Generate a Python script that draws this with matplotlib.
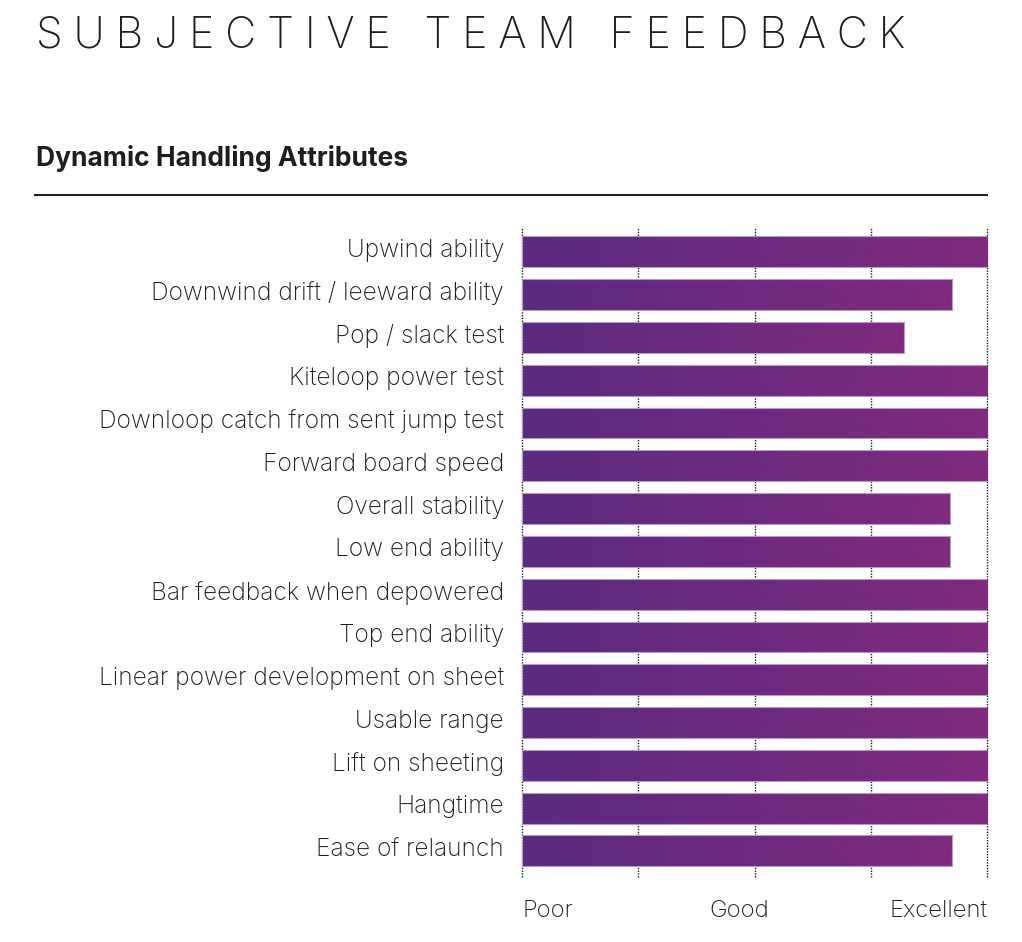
import matplotlib
matplotlib.use("Agg")
import matplotlib.pyplot as plt
import numpy as np
from matplotlib.colors import LinearSegmentedColormap
import matplotlib.transforms as mtransforms

title = "SUBJECTIVE TEAM FEEDBACK"
subtitle = "Dynamic Handling Attributes"
categories = [
    "Upwind ability",
    "Downwind drift / leeward ability",
    "Pop / slack test",
    "Kiteloop power test",
    "Downloop catch from sent jump test",
    "Forward board speed",
    "Overall stability",
    "Low end ability",
    "Bar feedback when depowered",
    "Top end ability",
    "Linear power development on sheet",
    "Usable range",
    "Lift on sheeting",
    "Hangtime",
    "Ease of relaunch",
]
scores = [4.0, 3.70, 3.29, 4.0, 4.0, 4.0, 3.68, 3.68, 4.0, 4.0, 4.0, 4.0, 4.0, 4.0, 3.70]
scale_ticks = [0, 2, 4]
scale_labels = ["Poor", "Good", "Excellent"]

FONT = ["Inter", "DejaVu Sans"]
TEXT = "#1e1e1e"
cmap = LinearSegmentedColormap.from_list("purp", ["#5a2a7e", "#7f2a7f"])

fig = plt.figure(figsize=(10.22, 9.42), dpi=100)
fig.patch.set_facecolor("white")

# Title with wide tracking
sp = "\u2005"
spaced = (sp + " " + sp).join(sp.join(w) for w in title.split(" "))
fig.text(36 / 1022, 1 - 48 / 942, spaced, fontsize=31, family=FONT, weight="light",
         color=TEXT, ha="left", va="baseline")
fig.text(36 / 1022, 1 - 166 / 942, subtitle, fontsize=19, family=FONT, weight="bold",
         color=TEXT, ha="left", va="baseline")
fig.add_artist(plt.Line2D([35 / 1022, 987 / 1022], [1 - 195 / 942, 1 - 195 / 942],
                          color="#222222", lw=1.5))

ax = fig.add_axes([522 / 1022, 1 - 877 / 942, 465 / 1022, 650 / 942])
n = len(categories)
y = np.arange(n)
h = 0.72
bars = ax.barh(y, scores, height=h, color="none", edgecolor="#b59ac6", linewidth=0.8, zorder=3)
grad = np.linspace(0, 1, 256).reshape(1, -1)
for b, v, yy in zip(bars, scores, y):
    im = ax.imshow(grad, cmap=cmap, aspect="auto", extent=[0, v, yy + h / 2, yy - h / 2],
                   zorder=2, interpolation="bilinear")
    im.set_clip_path(b)

ax.set_xlim(0, 4)
ax.set_ylim(n - 1 + 0.61, -0.58)
ax.set_aspect("auto")
for s in ax.spines.values():
    s.set_visible(False)
ax.set_xticks([0, 1, 2, 3, 4])
ax.xaxis.grid(True, linestyle=(0, (1, 1)), color="#222222", linewidth=1.0, zorder=0)
for gl in ax.get_xgridlines():
    gl.set_clip_on(False)
ax.set_axisbelow(True)
ax.tick_params(axis="x", length=0)
ax.set_xticklabels([])
ax.set_yticks(y)
ax.set_yticklabels(categories, fontsize=17.6, family=FONT, weight="light", color=TEXT)
ax.tick_params(axis="y", length=0, pad=13)
for lbl in ax.get_yticklabels():
    lbl.set_transform(lbl.get_transform() + mtransforms.ScaledTranslation(0, 4 / 100, fig.dpi_scale_trans))

# scale labels
aligns = ["left", "center", "right"]
offs = [0, -15, 0]
for t, lab, a, o in zip(scale_ticks, scale_labels, aligns, offs):
    tr = ax.get_xaxis_transform() + mtransforms.ScaledTranslation(o / 100, 0, fig.dpi_scale_trans)
    ax.text(t, (877 - 917) / 650, lab, transform=tr, ha=a, va="baseline",
            fontsize=17.2, family=FONT, weight="light", color=TEXT)

fig.savefig("out.png", dpi=100, facecolor="white")
